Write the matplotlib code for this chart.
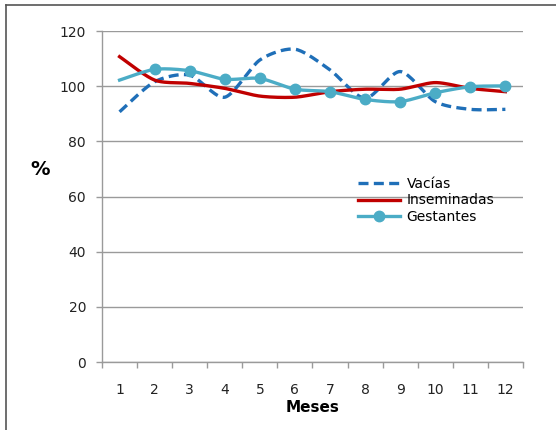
"""Monthly percentage curves for vacías, inseminadas and gestantes."""
import numpy as np
import matplotlib
matplotlib.use("Agg")
import matplotlib.pyplot as plt
from matplotlib.legend_handler import HandlerLine2D
from matplotlib.lines import Line2D

meses = list(range(1, 13))
vacias = [90.7, 101.6, 104.0, 96.0, 109.5, 113.4, 105.9, 95.6, 105.3, 94.4, 91.6, 91.6]
inseminadas = [110.7, 102.2, 101.0, 99.2, 96.4, 96.0, 98.0, 98.9, 98.9, 101.3, 99.2, 98.0]
gestantes = [102.2, 106.1, 105.6, 102.5, 102.8, 98.9, 98.0, 95.2, 94.4, 97.6, 99.8, 100.1]
y_ticks = [0, 20, 40, 60, 80, 100, 120]

C_VAC = "#1f6fb8"
C_INS = "#c00000"
C_GES = "#4bacc6"
GRID = "#9a9a9a"


def smooth(x, y, n=20, tension=0.4):
    """Cardinal spline through the points, like a spreadsheet 'smoothed line'."""
    x = np.asarray(x, float)
    y = np.asarray(y, float)
    px = np.concatenate([[x[0]], x, [x[-1]]])
    py = np.concatenate([[y[0]], y, [y[-1]]])
    xs, ys = [], []
    for i in range(1, len(px) - 2):
        t = np.linspace(0, 1, n, endpoint=False)
        h00 = 2 * t**3 - 3 * t**2 + 1
        h10 = t**3 - 2 * t**2 + t
        h01 = -2 * t**3 + 3 * t**2
        h11 = t**3 - t**2
        for p, out in ((px, xs), (py, ys)):
            m0 = tension * (p[i + 1] - p[i - 1])
            m1 = tension * (p[i + 2] - p[i])
            out.extend(h00 * p[i] + h10 * m0 + h01 * p[i + 1] + h11 * m1)
    xs.append(x[-1])
    ys.append(y[-1])
    return np.array(xs), np.array(ys)


class EndMarkerHandler(HandlerLine2D):
    """Legend entry with the marker at the right end of the line."""

    def get_xdata(self, legend, xdescent, ydescent, width, height, fontsize):
        xdata, _ = super().get_xdata(legend, xdescent, ydescent, width, height, fontsize)
        return xdata, np.array([xdata[-1]])


fig = plt.figure(figsize=(5.56, 4.30), dpi=100)
ax = fig.add_axes([0.1835, 0.1581, 0.757, 0.7698])

# outer chart frame (left/top visible)
fig.add_artist(Line2D([0.0108, 0.0108], [0, 0.988], color="#555555", lw=1.2,
                      transform=fig.transFigure))
fig.add_artist(Line2D([0.0108, 1.0], [0.988, 0.988], color="#555555", lw=1.2,
                      transform=fig.transFigure))

xv, yv = smooth(meses, vacias)
xi, yi = smooth(meses, inseminadas)
xg, yg = smooth(meses, gestantes)

l_vac, = ax.plot(xv, yv, color=C_VAC, lw=2.4, ls=(0, (3.0, 1.6)),
                 solid_capstyle="butt", dash_capstyle="butt", label="Vacías", zorder=3)
l_ins, = ax.plot(xi, yi, color=C_INS, lw=2.4, label="Inseminadas", zorder=4)
l_ges, = ax.plot(xg, yg, color=C_GES, lw=2.4, label="Gestantes", zorder=5)
ax.plot(meses[1:], gestantes[1:], ls="none", marker="o", ms=7.5,
        color=C_GES, zorder=6)
l_ges_leg = Line2D([], [], color=C_GES, lw=2.4, marker="o", ms=7.5)

ax.set_xlim(0.5, 12.5)
ax.set_ylim(0, 120)
ax.set_yticks(y_ticks)
ax.set_xticks(meses)
ax.set_xticks(np.arange(0.5, 13, 1), minor=True)
ax.tick_params(axis="x", which="major", length=0, pad=15, labelsize=10, colors="#222222")
ax.tick_params(axis="x", which="minor", length=4.5, width=1, color=GRID, direction="out")
ax.tick_params(axis="y", length=4.5, width=1, color=GRID, pad=7, labelsize=10,
               labelcolor="#222222")
ax.yaxis.grid(True, color=GRID, lw=1)
ax.set_axisbelow(True)
for side in ("top", "right"):
    ax.spines[side].set_visible(False)
for side in ("left", "bottom"):
    ax.spines[side].set_color(GRID)
    ax.spines[side].set_linewidth(1)

ax.set_xlabel("Meses", fontsize=11, fontweight="bold", labelpad=2)
fig.text(0.072, 0.605, "%", fontsize=14, fontweight="bold", ha="center", va="center")

ax.legend([l_vac, l_ins, l_ges_leg], ["Vacías", "Inseminadas", "Gestantes"],
          handler_map={l_ges_leg: EndMarkerHandler(numpoints=1)},
          loc="upper left", bbox_to_anchor=(0.608, 0.56), frameon=False,
          fontsize=10, handlelength=3.0, handletextpad=0.5, labelspacing=0.2,
          borderpad=0, borderaxespad=0)

fig.savefig("out.png", dpi=100)
